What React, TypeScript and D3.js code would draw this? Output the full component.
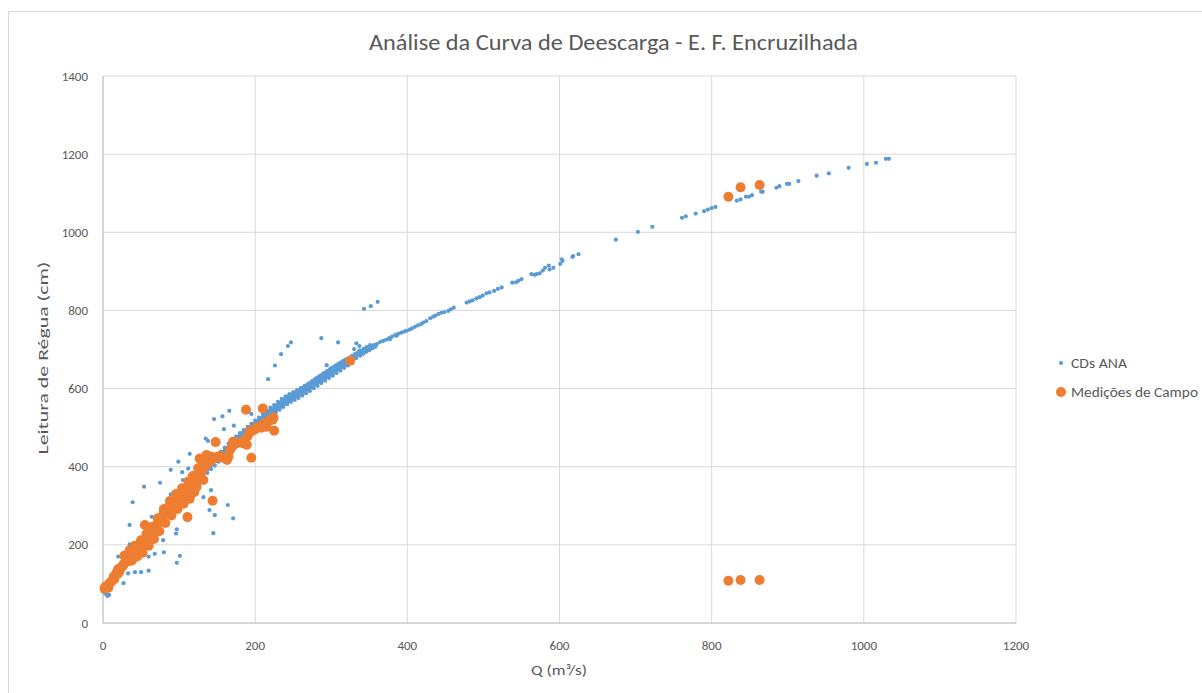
import React from 'react';
import * as d3 from 'd3';

// CDs ANA - main band of the rating curve (centre, edges and in-between rows)
const anaCentre: [number, number][] = [
  [3, 75], [4, 82], [5, 88], [6, 72], [7, 92], [8, 98], [9, 95], [10, 104], [11, 100], [12, 110],
  [13, 115], [14, 112], [15, 120], [16, 125], [17, 122], [18, 130], [19, 136], [20, 134], [21, 140],
  [22, 138], [23, 145], [24, 150], [25, 147], [26, 153], [27, 157], [28, 155], [29, 160], [30, 162],
  [31, 158], [32, 166], [33, 170], [34, 168], [35, 174], [36, 177], [37, 172], [38, 180], [39, 184],
  [40, 182], [41, 188], [42, 186], [43, 191], [44, 195], [45, 193], [46, 198], [47, 196], [48, 202],
  [49, 205], [50, 203], [52, 208], [54, 212], [55, 216], [56, 214], [58, 220], [60, 226], [62, 230],
  [64, 234], [65, 238], [66, 236], [68, 243], [70, 248], [72, 252], [74, 257], [75, 260], [76, 258],
  [78, 266], [80, 271], [82, 275], [84, 281], [86, 284], [88, 289], [90, 293], [92, 297], [94, 301],
  [96, 305], [98, 309], [100, 313], [102, 317], [104, 320], [106, 325], [108, 329], [110, 332],
  [112, 336], [114, 340], [116, 345], [118, 348], [120, 352], [122, 357], [124, 362], [126, 367],
  [128, 372], [130, 377], [132, 382], [134, 387], [136, 391], [138, 395], [140, 400], [142, 404],
  [144, 408], [146, 412], [148, 415], [150, 419], [152, 423], [154, 427], [156, 430], [158, 434],
  [160, 437], [162, 441], [164, 445], [166, 449], [168, 453], [170, 457], [172, 460], [174, 464],
  [176, 467], [178, 471], [180, 474], [182, 478], [184, 481], [186, 484], [188, 487], [190, 490],
  [192, 493], [194, 496], [196, 499], [198, 502], [200, 505], [202, 509], [204, 512], [206, 516],
  [208, 519], [210, 522], [212, 526], [214, 529], [216, 532], [218, 536], [220, 539], [222, 542],
  [224, 545], [226, 548], [228, 551], [230, 555], [232, 558], [234, 561], [236, 564], [238, 567],
  [240, 569], [243, 572], [246, 576], [249, 579], [252, 582], [255, 585], [258, 589], [261, 592],
  [264, 596], [267, 600], [270, 604], [273, 608], [276, 612], [279, 616], [282, 620], [285, 623],
  [288, 627], [291, 631], [294, 635], [297, 639], [300, 643], [303, 647], [306, 651], [309, 655],
  [312, 659], [315, 662], [318, 666], [322, 670], [326, 676], [330, 681], [332, 683], [336, 688],
  [340, 692], [344, 697], [348, 702], [352, 707], [356, 711], [360, 714], [364, 719], [368, 722],
  [372, 725], [376, 729], [380, 733], [384, 737], [388, 740], [392, 743], [396, 746], [403, 751],
  [406, 754], [414, 762], [418, 765], [425, 773], [434, 784], [437, 787], [449, 796], [457, 803],
];

const anaUpper: [number, number][] = [
  [100, 322], [105, 333], [110, 344], [115, 356], [120, 366], [125, 377], [130, 389], [135, 401],
  [140, 411], [145, 420], [150, 430], [155, 439], [160, 449], [165, 459], [170, 468], [175, 477],
  [180, 486], [185, 494], [190, 502], [195, 510], [200, 518], [205, 526], [210, 535], [215, 543],
  [220, 551], [225, 558], [230, 566], [235, 574], [240, 580], [245, 586], [250, 591], [255, 596],
  [260, 601], [265, 607], [270, 613], [275, 619], [280, 626], [285, 632], [290, 639], [295, 645],
  [300, 651], [305, 657], [310, 663], [315, 669], [320, 674], [325, 679], [330, 685],
];

const anaMidUp: [number, number][] = [
  [151, 426], [154, 432], [157, 437], [160, 442], [163, 448], [166, 454], [169, 460], [172, 466],
  [175, 471], [178, 477], [181, 482], [184, 487], [187, 492], [190, 496], [193, 501], [196, 505],
  [199, 510], [202, 515], [205, 520], [208, 525], [211, 530], [214, 535], [217, 540], [220, 545],
  [223, 549], [226, 554], [229, 558], [232, 563], [235, 567], [238, 572], [241, 576], [244, 580],
  [247, 583], [250, 587], [253, 590], [256, 594], [259, 597], [262, 601], [265, 605], [268, 609],
  [271, 613], [274, 617], [277, 621], [280, 625], [283, 629], [286, 633], [289, 637], [292, 641],
  [295, 645], [298, 649], [301, 653], [304, 656], [307, 660], [310, 664], [313, 667], [316, 671],
  [319, 674], [323, 678], [327, 683], [331, 688], [335, 692], [339, 697], [343, 702], [347, 706],
];

const anaMidLow: [number, number][] = [
  [153, 418], [156, 424], [159, 429], [162, 434], [165, 440], [168, 446], [171, 452], [174, 457],
  [177, 463], [180, 468], [183, 473], [186, 478], [189, 482], [192, 487], [195, 491], [198, 496],
  [201, 501], [204, 506], [207, 511], [210, 516], [213, 521], [216, 526], [219, 531], [222, 536],
  [225, 541], [228, 545], [231, 550], [234, 554], [237, 558], [240, 562], [243, 566], [246, 570],
  [249, 573], [252, 577], [255, 580], [258, 584], [261, 587], [264, 591], [267, 595], [270, 599],
  [273, 603], [276, 607], [279, 611], [282, 615], [285, 618], [288, 622], [291, 626], [294, 630],
  [297, 634], [300, 638], [303, 642], [306, 646], [309, 650], [312, 654], [315, 657], [318, 661],
  [321, 664], [324, 668], [328, 673], [333, 678], [338, 684], [342, 689], [346, 694], [350, 698],
  [354, 703], [358, 707],
];

const anaLower: [number, number][] = [
  [102, 308], [107, 318], [112, 327], [117, 337], [122, 348], [127, 360], [132, 373], [137, 384],
  [142, 394], [147, 403], [152, 413], [157, 422], [162, 431], [167, 441], [172, 450], [177, 459],
  [182, 467], [187, 475], [192, 482], [197, 490], [202, 498], [207, 506], [212, 514], [217, 522],
  [222, 530], [227, 538], [232, 546], [237, 553], [242, 560], [247, 566], [252, 571], [257, 576],
  [262, 582], [267, 588], [272, 594], [277, 601], [282, 607], [287, 614], [292, 620], [297, 627],
  [302, 633], [307, 640], [312, 646], [317, 653], [322, 659],
];

// sparser upper part of the curve
const anaHigh: [number, number][] = [
  [351, 711], [377, 726], [386, 735], [399, 748], [410, 758], [421, 769], [430, 780], [441, 791],
  [445, 794], [454, 799], [461, 807], [478, 820], [482, 823], [486, 826], [491, 831], [495, 834],
  [499, 838], [504, 844], [508, 846], [514, 850], [519, 855], [524, 859], [538, 871], [543, 872],
  [546, 876], [550, 880], [563, 893], [567, 891], [570, 893], [574, 895], [578, 902], [581, 909],
  [586, 915], [587, 905], [592, 909], [601, 919], [604, 927], [603, 931], [617, 937], [618, 939],
  [625, 944], [674, 981], [703, 1001], [722, 1014], [761, 1037], [766, 1041], [779, 1048],
  [790, 1054], [795, 1058], [800, 1062], [805, 1065], [833, 1081], [838, 1084], [845, 1091],
  [849, 1091], [853, 1095], [865, 1104], [867, 1104], [885, 1114], [889, 1118], [899, 1124],
  [902, 1124], [914, 1131], [938, 1145], [954, 1151], [980, 1165], [1004, 1175], [1016, 1178],
  [1029, 1188], [1033, 1188],
];

// scattered ANA points away from the band
const anaOutliers: [number, number][] = [
  [6, 69], [8, 72], [27, 102], [33, 127], [42, 130], [50, 130], [60, 134], [97, 154], [20, 170],
  [60, 170], [68, 177], [80, 181], [101, 172], [35, 201], [79, 212], [96, 229], [97, 240],
  [35, 251], [64, 272], [39, 309], [147, 276], [171, 268], [140, 289], [164, 302], [132, 322],
  [142, 340], [89, 329], [54, 349], [75, 359], [105, 366], [104, 386], [89, 392], [112, 395],
  [99, 413], [114, 433], [138, 466], [135, 472], [159, 496], [172, 505], [146, 522], [157, 529],
  [166, 543], [195, 535], [145, 230], [217, 624], [226, 659], [234, 688], [243, 709], [247, 718],
  [287, 729], [309, 718], [330, 701], [333, 716], [337, 709], [337, 697], [294, 660], [343, 804],
  [352, 811], [361, 822],
];

// Medições de Campo
const campo: [number, number][] = [
  [2, 88], [3, 92], [5, 95], [7, 90], [8, 100], [10, 104], [12, 108], [14, 118], [15, 113],
  [17, 124], [18, 130], [20, 127], [20, 138], [22, 134], [24, 142], [26, 146], [27, 150], [29, 155],
  [30, 160], [32, 164], [34, 158], [35, 168], [37, 172], [38, 178], [40, 176], [42, 183], [44, 188],
  [45, 181], [47, 193], [49, 196], [50, 190], [52, 200], [54, 205], [56, 210], [57, 200], [58, 216],
  [60, 222], [62, 228], [64, 226], [65, 236], [67, 242], [68, 246], [70, 250], [72, 256], [74, 262],
  [75, 266], [77, 270], [79, 276], [80, 284], [82, 280], [84, 288], [86, 292], [88, 296], [88, 302],
  [90, 298], [92, 306], [94, 310], [97, 298], [97, 314], [100, 318], [102, 322], [104, 326],
  [106, 315], [108, 330], [110, 336], [110, 342], [112, 346], [114, 323], [115, 352], [117, 358],
  [118, 364], [120, 368], [122, 372], [123, 349], [125, 378], [125, 396], [127, 384], [127, 421],
  [130, 388], [131, 408], [132, 366], [134, 400], [134, 412], [136, 420], [136, 430], [138, 425],
  [141, 413], [142, 426], [145, 420], [150, 425], [154, 428], [156, 424], [160, 422], [163, 417],
  [165, 426], [167, 443], [170, 452], [171, 464], [174, 458], [176, 462], [180, 462], [184, 460],
  [186, 467], [189, 456], [190, 478], [193, 491], [195, 490], [198, 494], [200, 496], [202, 500],
  [205, 503], [208, 500], [211, 507], [213, 512], [215, 502], [217, 516], [220, 520], [223, 520],
  [224, 526],
  // wider spread of the field cluster
  [28, 172], [35, 186], [42, 198], [50, 212], [57, 228], [64, 246], [72, 268], [80, 292], [88, 312],
  [96, 330], [104, 345], [112, 362], [118, 376], [38, 160], [45, 170], [52, 180], [60, 198],
  [67, 215], [74, 235], [82, 256], [90, 275], [98, 292], [106, 305], [114, 318], [120, 335],
  // isolated field measurements
  [55, 251], [111, 271], [144, 313], [148, 463], [195, 423], [225, 492], [188, 546],
  [210, 549], [325, 671], [822, 1091], [838, 1115], [863, 1121], [822, 108], [838, 110], [863, 110],
];

const xTicks = [0, 200, 400, 600, 800, 1000, 1200];
const yTicks = [0, 200, 400, 600, 800, 1000, 1200, 1400];

const title = 'Análise da Curva de Deescarga - E. F. Encruzilhada';
const xTitle = 'Q (m³/s)';
const yTitle = 'Leitura de Régua (cm)';
const seriesNames = ['CDs ANA', 'Medições de Campo'];

const BLUE = '#5B9BD5';
const ORANGE = '#ED7D31';
const TEXT = '#595959';
const FONT = "Carlito, Calibri, Lato, 'Open Sans', sans-serif";

export default function App() {
  const width = 1202;
  const height = 693;
  const left = 103;
  const right = 1016;
  const top = 76;
  const bottom = 623;

  const x = d3.scaleLinear().domain([0, 1200]).range([left, right]);
  const y = d3.scaleLinear().domain([0, 1400]).range([bottom, top]);

  const ana = [...anaCentre, ...anaUpper, ...anaMidUp, ...anaMidLow, ...anaLower, ...anaHigh, ...anaOutliers];

  return (
    <svg
      width={width}
      height={height}
      style={{ position: 'absolute', left: 0, top: 0, background: '#fff' }}
      fontFamily={FONT}
    >
      <rect x={8.5} y={11.5} width={1200} height={700} fill="#fff" stroke="#D9D9D9" />

      {/* grid */}
      {yTicks.map((t) => (
        <line key={'gy' + t} x1={left} x2={right} y1={y(t)} y2={y(t)} stroke="#D9D9D9" />
      ))}
      {xTicks.map((t) => (
        <line key={'gx' + t} x1={x(t)} x2={x(t)} y1={top} y2={bottom} stroke="#D9D9D9" />
      ))}
      <line x1={left} x2={right} y1={bottom} y2={bottom} stroke="#BFBFBF" />
      <line x1={left} x2={left} y1={top} y2={bottom} stroke="#BFBFBF" />

      {/* tick labels */}
      {yTicks.map((t) => (
        <text key={'ty' + t} x={88} y={y(t) + 4.5} textAnchor="end" fontSize={13} fill={TEXT}>
          {t}
        </text>
      ))}
      {xTicks.map((t) => (
        <text key={'tx' + t} x={x(t)} y={650} textAnchor="middle" fontSize={13} fill={TEXT}>
          {t}
        </text>
      ))}

      {/* titles */}
      <text x={613.5} y={50} textAnchor="middle" fontSize={22} fill={TEXT} textLength={489} lengthAdjust="spacingAndGlyphs">
        {title}
      </text>
      <text x={559} y={675} textAnchor="middle" fontSize={14} fill={TEXT} textLength={56} lengthAdjust="spacingAndGlyphs">
        {xTitle}
      </text>
      <text
        transform={`translate(48, 358) rotate(-90)`}
        textAnchor="middle"
        fontSize={14}
        fill={TEXT}
        textLength={193}
        lengthAdjust="spacingAndGlyphs"
      >
        {yTitle}
      </text>

      {/* series */}
      <g fill={BLUE}>
        {ana.map((d, i) => (
          <circle key={'a' + i} cx={x(d[0])} cy={y(d[1])} r={2.1} />
        ))}
      </g>
      <g fill={ORANGE}>
        {campo.map((d, i) => (
          <circle key={'c' + i} cx={x(d[0])} cy={y(d[1])} r={5} />
        ))}
      </g>

      {/* legend */}
      <circle cx={1061} cy={363} r={2.1} fill={BLUE} />
      <text x={1071} y={368} fontSize={14} fill={TEXT} textLength={56} lengthAdjust="spacingAndGlyphs">
        {seriesNames[0]}
      </text>
      <circle cx={1061} cy={392} r={5} fill={ORANGE} />
      <text x={1071} y={397} fontSize={14} fill={TEXT} textLength={127} lengthAdjust="spacingAndGlyphs">
        {seriesNames[1]}
      </text>
    </svg>
  );
}
